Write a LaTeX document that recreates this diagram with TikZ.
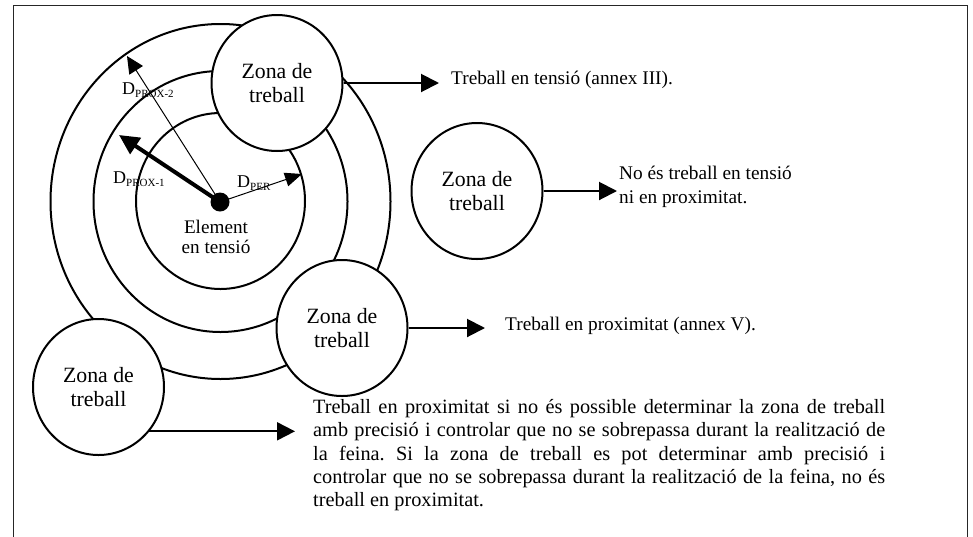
\documentclass[tikz,border=0pt]{standalone}
\usepackage{fontspec}
\setmainfont{Liberation Serif}
\usetikzlibrary{arrows.meta,shapes.geometric}
\frenchspacing
\newcommand{\dlabel}[1]{D\raisebox{-3pt}{\fontsize{11}{11}\selectfont #1}}

\begin{document}
\begin{tikzpicture}[x=1pt,y=-1pt,
    anell/.style={line width=2pt},
    zona/.style={draw,ellipse,line width=2pt,fill=white,inner sep=0pt,
      minimum width=131pt,minimum height=136pt,align=center,
      font=\fontsize{21.8}{24.5}\selectfont},
    fletxa/.style={line width=2pt,-{Triangle[length=18pt,width=18pt]}},
    rotul/.style={anchor=west,inner sep=0pt,align=left,
      font=\fontsize{19.3}{23.5}\selectfont},
    dist/.style={anchor=base west,inner sep=0pt,font=\fontsize{18}{18}\selectfont}]
  \useasboundingbox (0,0) rectangle (973,536);
  \draw[line width=1pt,black!85] (13,5) rectangle (967,545);
  % anells al voltant de l'element
  \draw[anell] (220.5,201.5) ellipse [x radius=170pt, y radius=177.5pt];
  \draw[anell] (220.5,201.5) ellipse [x radius=127pt, y radius=130.5pt];
  \draw[anell] (220.5,201) ellipse [x radius=84.5pt, y radius=88pt];
  % zones de treball
  \node[zona] (zsup) at (277,83) {Zona de\\treball};
  \node[zona] (zdre) at (477,191) {Zona de\\treball};
  \node[zona] (zinf) at (342,328) {Zona de\\treball};
  \node[zona] (zesq) at (98.5,387) {Zona de\\treball};
  % distancies
  \node[circle,fill,inner sep=0pt,minimum size=19pt] (elem) at (220,202) {};
  \coordinate (dp2) at (127,56);
  \coordinate (dp1) at (119,135);
  \coordinate (dper) at (302,174);
  \draw[line width=1pt,-{Triangle[length=17pt,width=16pt]}] (elem.center) -- (dp2);
  \draw[line width=4pt,-{Triangle[length=20pt,width=19pt]}] (elem.center) -- (dp1);
  \draw[line width=1pt,-{Triangle[length=17pt,width=14pt]}] (elem.center) -- (dper);
  \node[dist] (lp2) at (122,94) {\dlabel{PROX-2}};
  \node[dist] (lp1) at (113,183) {\dlabel{PROX-1}};
  \node[dist] (lper) at (237,187) {\dlabel{PER}};
  \node[align=center,inner sep=0pt,font=\fontsize{19.2}{20}\selectfont] (eltxt) at (216,237) {Element\\en tensió};
  % textos
  \node[rotul] (ttens) at (451,80) {Treball en tensió (annex III).};
  \node[rotul] (tno) at (619,187) {No és treball en tensió\\ni en proximitat.};
  \node[rotul] (tprox) at (505,326) {Treball en proximitat (annex V).};
  \node[anchor=north west,inner sep=0pt,text width=572pt,align=justify,
    font=\fontsize{20.3}{23.4}\selectfont] (tpar) at (313,399)
    {Treball en proximitat si no és possible determinar la zona de treball\linebreak
     amb precisió i controlar que no se sobrepassa durant la realització de\linebreak
     la feina. Si la zona de treball es pot determinar amb precisió i\linebreak
     controlar que no se sobrepassa durant la realització de la feina, no és\linebreak
     treball en proximitat.};
  % fletxes
  \draw[fletxa,shorten >=12pt] (zsup.east) -- (zsup.east -| ttens.west);
  \draw[fletxa,shorten >=2pt] (zdre.east) -- (zdre.east -| tno.west);
  \draw[fletxa,shorten >=20pt] (zinf.east) -- (zinf.east -| tprox.west);
  \draw[fletxa,shorten >=18pt] (zesq.-41) -- (zesq.-41 -| tpar.west);
\end{tikzpicture}
\end{document}
